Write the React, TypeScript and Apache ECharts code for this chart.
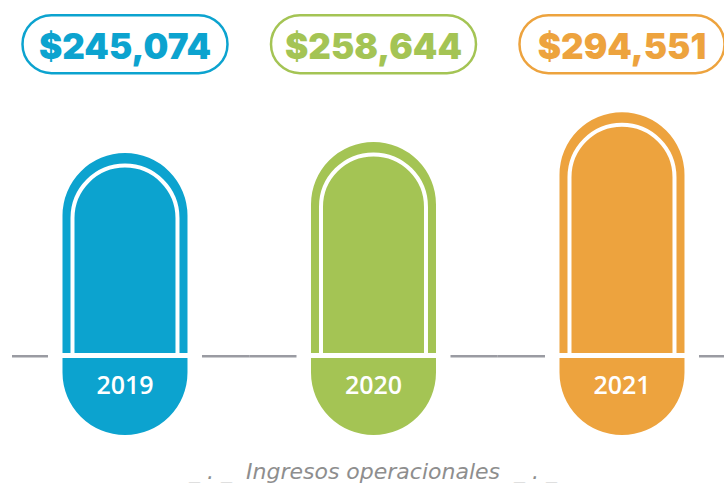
import React, { useEffect, useRef } from "react";
import * as echarts from "echarts";

const categories = ["2019", "2020", "2021"];
const values = [245074, 258644, 294551];
const valueLabels = ["$245,074", "$258,644", "$294,551"];
const subtitle = "_ . _  Ingresos operacionales  _ . _";

const COLORS = ["#0ca3cf", "#a4c454", "#eda33e"];
const GRAY = "#9a9ba2";

export default function App() {
  const ref = useRef<HTMLDivElement>(null);
  useEffect(() => {
    if (!ref.current) return;
    const chart = echarts.init(ref.current, null, { renderer: "svg" });
    const option: any = {
      animation: false,
      backgroundColor: "#ffffff",
      grid: { left: 0, top: 58.2, width: 724, height: 297.3, containLabel: false },
      xAxis: {
        type: "value",
        min: -0.503,
        max: 2.4105,
        show: false,
      },
      yAxis: { type: "value", min: 0, max: 360000, show: false },
      graphic: [
        {
          type: "text",
          x: 373,
          y: 471,
          style: {
            text: subtitle,
            align: "center",
            verticalAlign: "middle",
            fill: "#8e8e8e",
            fontSize: 22,
            fontStyle: "italic",
            fontWeight: 200,
            fontFamily: "'DejaVu Sans', sans-serif",
          },
        },
      ],
      series: [
        {
          type: "custom",
          data: values.map((v, i) => [i, v]),
          clip: false,
          renderItem: (params: any, api: any) => {
            const i = api.value(0);
            const v = api.value(1);
            const color = COLORS[i];
            const [cx, top] = api.coord([i, v]);
            const base = api.coord([i, 0])[1];
            const bw = api.size([1, 0])[0];
            const w = bw * 0.503;
            const left = cx - w / 2;
            const right = cx + w / 2;
            const r = w / 2;
            const margin = 14.5;
            const segLen = (bw - w) / 2 - margin;
            const gx0 = params.coordSys.x + 12;
            const children: any[] = [];
            // baseline segments
            children.push({
              type: "line",
              shape: { x1: Math.max(gx0, left - margin - segLen), y1: base + 0.7, x2: left - margin, y2: base + 0.7 },
              style: { stroke: GRAY, lineWidth: 2.6 },
            });
            children.push({
              type: "line",
              shape: { x1: right + margin, y1: base + 0.7, x2: right + margin + segLen, y2: base + 0.7 },
              style: { stroke: GRAY, lineWidth: 2.6 },
            });
            // top capsule
            children.push({
              type: "rect",
              shape: { x: left, y: top, width: w, height: base - 2.5 - top, r: [r, r, 0, 0] },
              style: { fill: color },
            });
            // inner white outline
            const inset = 10;
            children.push({
              type: "rect",
              shape: {
                x: left + inset,
                y: top + 12.5,
                width: w - 2 * inset,
                height: base - (top + 12.5),
                r: [r - inset, r - inset, 0, 0],
              },
              style: { fill: "none", stroke: "#ffffff", lineWidth: 4 },
            });
            // bottom cap
            children.push({
              type: "rect",
              shape: { x: left, y: base + 2.5, width: w, height: 77, r: [0, 0, r, r] },
              style: { fill: color },
            });
            // year label
            children.push({
              type: "text",
              style: {
                text: categories[i],
                x: cx,
                y: base + 28,
                align: "center",
                verticalAlign: "middle",
                fill: "#ffffff",
                fontSize: 25,
                fontWeight: 600,
                fontFamily: "'Open Sans', sans-serif",
              },
            });
            // value pill
            children.push({
              type: "rect",
              shape: { x: cx - 102.5, y: 15.2, width: 205, height: 58, r: 29 },
              style: { fill: "#ffffff", stroke: color, lineWidth: 2.5 },
            });
            children.push({
              type: "text",
              style: {
                text: valueLabels[i],
                x: cx,
                y: 46,
                align: "center",
                verticalAlign: "middle",
                fill: color,
                fontSize: 35,
                fontWeight: 900,
                fontFamily: "Inter, 'Open Sans', sans-serif",
              },
            });
            return { type: "group", children };
          },
        },
      ],
    };
    chart.setOption(option);
    return () => chart.dispose();
  }, []);
  return (
    <div
      ref={ref}
      style={{ position: "absolute", left: 0, top: 0, width: 724, height: 483 }}
    />
  );
}
